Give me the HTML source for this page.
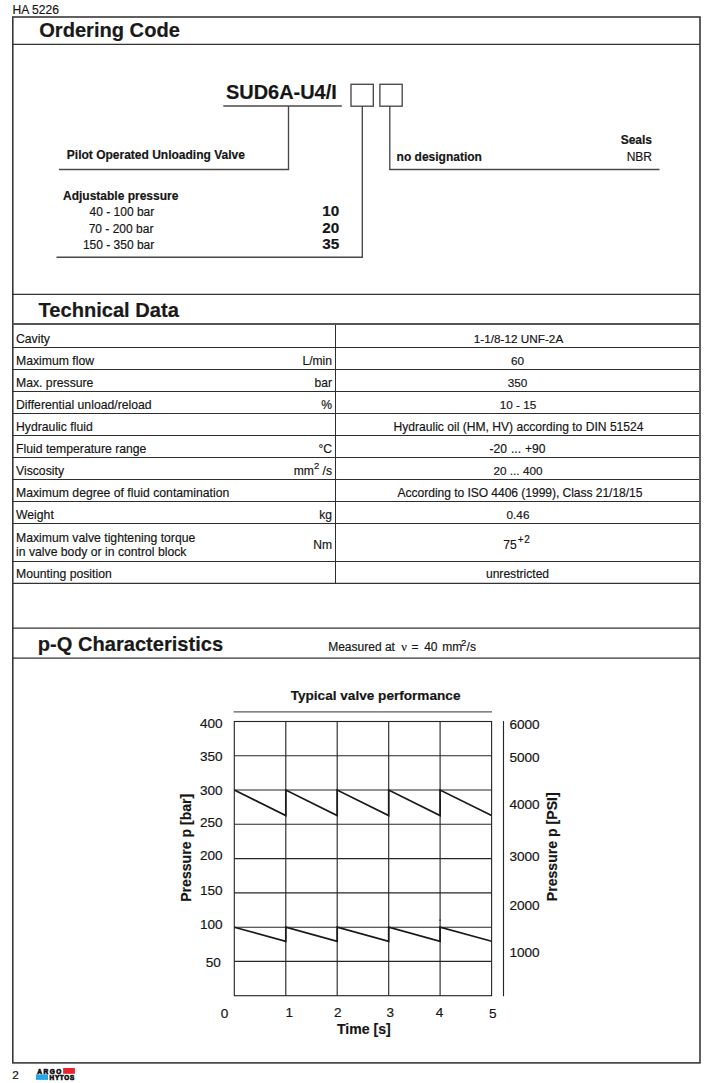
<!DOCTYPE html>
<html lang="en">
<head>
<meta charset="utf-8">
<title>HA 5226 - SUD6A-U4/I</title>
<style>
  html, body { margin: 0; padding: 0; background: #fff; }
  body { width: 709px; height: 1083px; position: relative; overflow: hidden;
         font-family: "Liberation Sans", Arial, Helvetica, sans-serif; color: #161616; -webkit-text-stroke: 0.18px #161616; }
  .abs { position: absolute; white-space: nowrap; }
  .docno { left: 12.6px; top: 2.9px; font-size: 12.1px; line-height: 14px; }
  h2 { position: absolute; margin: 0; left: 38.5px; font-size: 20.1px; line-height: 24px; font-weight: bold; white-space: nowrap; color: #1a1a1a; }
  /* technical data table */
  table.td { position: absolute; left: 13px; top: 324px; width: 686px; border-collapse: separate; border-spacing: 0; table-layout: fixed;
             font-size: 12.1px; }
  table.td td { padding: 0; border-bottom: 1px solid #2e2e2e; vertical-align: top; height: 22px; line-height: 14px; box-sizing: border-box; }
  table.td td.n { padding-left: 3px; padding-top: 6px; width: 260px; font-size: 12.22px; }
  table.td td.u { text-align: right; padding-right: 3px; padding-top: 6px; width: 63px; border-right: 1px solid #2e2e2e; }
  table.td td.v { text-align: center; padding-top: 6px; padding-left: 0; }
  table.td td.num { font-size: 11.75px; }
  table.td sup { font-size: 9.5px; line-height: 0; vertical-align: 6px; }
  table.td sup.tol { font-size: 10px; letter-spacing: 0.9px; vertical-align: 6.5px; margin-left: 1px; }
  svg { position: absolute; left: 0; top: 0; }
  svg text { font-family: "Liberation Sans", Arial, Helvetica, sans-serif; fill: #161616; stroke: #161616; stroke-width: 0.18px; -webkit-text-stroke: 0; }
  .b { font-weight: bold; }
  .pageno { left: 12.3px; top: 1068px; font-size: 11.8px; line-height: 14px; }
</style>
</head>
<body>
<div class="abs docno">HA 5226</div>

<!-- section headings -->
<h2 style="top:18px;left:39.2px">Ordering Code</h2>

<h2 style="top:298px">Technical Data</h2>

<table class="td">
  <tr><td class="n" style="height:24px;padding-top:8px">Cavity</td><td class="u" style="padding-top:8px"></td><td class="v num" style="padding-top:8px;padding-left:2px">1-1/8-12 UNF-2A</td></tr>
  <tr><td class="n">Maximum flow</td><td class="u">L/min</td><td class="v num">60</td></tr>
  <tr><td class="n">Max. pressure</td><td class="u">bar</td><td class="v num">350</td></tr>
  <tr><td class="n">Differential unload/reload</td><td class="u">%</td><td class="v num" style="padding-left:1px">10 - 15</td></tr>
  <tr><td class="n">Hydraulic fluid</td><td class="u"></td><td class="v" style="padding-left:2px">Hydraulic oil (HM, HV) according to DIN 51524</td></tr>
  <tr><td class="n">Fluid temperature range</td><td class="u">°C</td><td class="v" style="word-spacing:0.6px">-20 ... +90</td></tr>
  <tr><td class="n">Viscosity</td><td class="u">mm<sup>2</sup> /s</td><td class="v num" style="padding-left:1px">20 ... 400</td></tr>
  <tr><td class="n">Maximum degree of fluid contamination</td><td class="u"></td><td class="v" style="padding-left:5px;letter-spacing:-0.06px">According to ISO 4406 (1999), Class 21/18/15</td></tr>
  <tr><td class="n">Weight</td><td class="u">kg</td><td class="v num" style="padding-left:1px">0.46</td></tr>
  <tr><td class="n" style="height:38px;line-height:14.4px;padding-top:6.5px">Maximum valve tightening torque<br>in valve body or in control block</td><td class="u" style="padding-top:14px">Nm</td><td class="v" style="padding-top:14px;padding-left:0;padding-right:1px">75<sup class="tol">+2</sup></td></tr>
  <tr><td class="n" style="padding-top:5px">Mounting position</td><td class="u"></td><td class="v" style="padding-top:5px;padding-left:0">unrestricted</td></tr>
</table>

<h2 style="top:632px;left:37.8px">p-Q Characteristics</h2>

<!-- diagrams -->
<svg width="709" height="1083" viewBox="0 0 709 1083">
  <!-- page frame and section rules -->
  <g stroke="#333" fill="none">
    <rect x="12.8" y="17" width="687.2" height="1045.9" stroke-width="1.55"/>
    <g stroke-width="1.3">
      <line x1="12.8" y1="44.4" x2="700" y2="44.4"/>
      <line x1="12.8" y1="294.45" x2="700" y2="294.45"/>
      <line x1="12.8" y1="583.3" x2="700" y2="583.3"/>
      <line x1="12.8" y1="628.2" x2="700" y2="628.2"/>
      <line x1="12.8" y1="658.2" x2="700" y2="658.2"/>
    </g>
    <line x1="12.8" y1="324.05" x2="700" y2="324.05" stroke="#555" stroke-width="1.9"/>
  </g>
  <!-- ordering code -->
  <g stroke="#484848" stroke-width="1.35" fill="none">
    <line x1="223.3" y1="106" x2="341.8" y2="106"/>
    <polyline points="288.5,106 288.5,169.5 59,169.5"/>
    <rect x="351" y="84.3" width="22.3" height="21.9"/>
    <rect x="379.9" y="84.3" width="22.3" height="21.9"/>
    <polyline points="362.3,106 362.3,257.2 56.5,257.2"/>
    <polyline points="389.8,106 389.8,169.5 659.5,169.5"/>
  </g>
  <text class="b" x="226" y="99" font-size="19.95">SUD6A-U4/I</text>
  <text class="b" x="66.8" y="159.3" font-size="12">Pilot Operated Unloading Valve</text>
  <text class="b" x="63" y="200" font-size="12">Adjustable pressure</text>
  <text x="154.3" y="215.6" font-size="12" text-anchor="end">40 - 100 bar</text>
  <text x="153.4" y="233.1" font-size="12" text-anchor="end">70 - 200 bar</text>
  <text x="154.3" y="249" font-size="12" text-anchor="end">150 - 350 bar</text>
  <text class="b" x="339.2" y="215.6" font-size="15.3" text-anchor="end">10</text>
  <text class="b" x="339.2" y="232.5" font-size="15.3" text-anchor="end">20</text>
  <text class="b" x="339.2" y="248.7" font-size="15.3" text-anchor="end">35</text>
  <text class="b" x="396.6" y="160.7" font-size="12">no designation</text>
  <text class="b" x="652" y="144" font-size="12" text-anchor="end">Seals</text>
  <text x="652" y="160.7" font-size="12" text-anchor="end">NBR</text>

  <!-- measured at -->
  <text y="650.8" font-size="12"><tspan x="328.2">Measured at</tspan><tspan x="411.6">=</tspan><tspan x="424.2">40</tspan><tspan x="442.3">mm</tspan><tspan x="466.6">/s</tspan></text>
  <text x="401.3" y="650.8" font-size="12.5" style="font-family:'Liberation Serif','DejaVu Serif',serif">ν</text>
  <text x="460.9" y="645.8" font-size="9.6">2</text>

  <!-- chart -->
  <text class="b" x="290.7" y="699.7" font-size="13.6">Typical valve performance</text>
  <line x1="233.6" y1="711.9" x2="492" y2="711.9" stroke="#5c5c5c" stroke-width="1.3"/>
  <g stroke="#262626" stroke-width="1.12" fill="none">
    <rect x="234.3" y="721.5" width="257.3" height="274.2"/>
    <line x1="285.8" y1="721.5" x2="285.8" y2="995.7"/>
    <line x1="337.2" y1="721.5" x2="337.2" y2="995.7"/>
    <line x1="388.7" y1="721.5" x2="388.7" y2="995.7"/>
    <line x1="440.1" y1="721.5" x2="440.1" y2="995.7"/>
    <line x1="234.3" y1="755.8" x2="491.6" y2="755.8"/>
    <line x1="234.3" y1="790" x2="491.6" y2="790"/>
    <line x1="234.3" y1="824.3" x2="491.6" y2="824.3"/>
    <line x1="234.3" y1="858.6" x2="491.6" y2="858.6"/>
    <line x1="234.3" y1="892.9" x2="491.6" y2="892.9"/>
    <line x1="234.3" y1="927.2" x2="491.6" y2="927.2"/>
    <line x1="234.3" y1="961.4" x2="491.6" y2="961.4"/>
    <line x1="503.5" y1="721" x2="503.5" y2="996.2"/>
  </g>
  <g stroke="#1a1a1a" stroke-width="1.7" fill="none" stroke-linejoin="miter">
    <polyline points="234.3,790 285.8,815.6 285.8,790 337.2,815.6 337.2,790 388.7,815.6 388.7,790 440.1,815.6 440.1,790 491.6,815.6"/>
    <polyline points="234.3,927.2 285.8,941.3 285.8,927.2 337.2,941.3 337.2,927.2 388.7,941.3 388.7,927.2 440.1,941.3 440.1,927.2 491.6,941.3"/>
  </g>
  <rect x="439.3" y="919.6" width="1.6" height="1.1" fill="#222"/>
  <g font-size="13.6" text-anchor="end">
    <text x="222.6" y="728">400</text>
    <text x="222.6" y="761.2">350</text>
    <text x="222.6" y="795">300</text>
    <text x="222.6" y="826.8">250</text>
    <text x="222.6" y="860.4">200</text>
    <text x="222.6" y="895.2">150</text>
    <text x="222.6" y="928.8">100</text>
    <text x="220.8" y="966.8">50</text>
  </g>
  <g font-size="13.6">
    <text x="509.4" y="729">6000</text>
    <text x="509.4" y="762.4">5000</text>
    <text x="509.4" y="808.9">4000</text>
    <text x="509.4" y="860.9">3000</text>
    <text x="509.4" y="909.6">2000</text>
    <text x="509.4" y="956.6">1000</text>
  </g>
  <g font-size="13.6">
    <text x="220.8" y="1017.5">0</text>
    <text x="285.4" y="1017.2">1</text>
    <text x="334" y="1017.2">2</text>
    <text x="386.5" y="1017.2">3</text>
    <text x="435.8" y="1017.2">4</text>
    <text x="489" y="1017.5">5</text>
  </g>
  <text class="b" x="337" y="1034" font-size="14.1">Time [s]</text>
  <text class="b" font-size="14.1" stroke="#1c1c1c" stroke-width="0.25" transform="translate(190.9,901.8) rotate(-90)">Pressure p [bar]</text>
  <text class="b" font-size="14.1" stroke="#1c1c1c" stroke-width="0.25" transform="translate(557.1,901.2) rotate(-90)">Pressure p [PSI]</text>

  <!-- logo -->
  <rect x="63.1" y="1068" width="11.8" height="5.8" fill="#e8242b"/>
  <rect x="35.9" y="1074.4" width="12.1" height="5.5" fill="#25a6e8"/>
  <text class="b" x="37.2" y="1073.7" font-size="6.5" textLength="24.2" lengthAdjust="spacing" style="fill:#111;stroke:#111;stroke-width:0.65px">ARGO</text>
  <text class="b" x="49.6" y="1079.5" font-size="6.4" textLength="24.6" lengthAdjust="spacing" style="fill:#111;stroke:#111;stroke-width:0.65px">HYTOS</text>
</svg>

<div class="abs pageno">2</div>
</body>
</html>
